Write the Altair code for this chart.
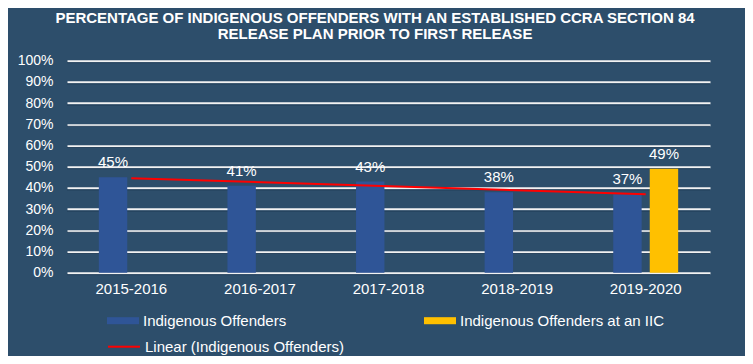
import altair as alt
import pandas as pd

years = ["2015-2016", "2016-2017", "2017-2018", "2018-2019", "2019-2020"]
indigenous = [45, 41, 43, 38, 37]
iic = [None, None, None, None, 49]
series_names = ["Indigenous Offenders", "Indigenous Offenders at an IIC"]
trend_name = "Linear (Indigenous Offenders)"
title_lines = ["PERCENTAGE OF INDIGENOUS OFFENDERS WITH AN ESTABLISHED CCRA SECTION 84",
               "RELEASE PLAN PRIOR TO FIRST RELEASE"]
y_ticks = [0, 10, 20, 30, 40, 50, 60, 70, 80, 90, 100]

BG = "#2D4E6B"
BLUE = "#2F5597"
YELLOW = "#FFC000"
RED = "#FF0000"
SHADOW = "#1E3A55"
FONT = "Liberation Sans"

rows = []
for i, y in enumerate(years):
    rows.append({"year": y, "idx": i, "series": series_names[0], "pct": indigenous[i]})
    if iic[i] is not None:
        rows.append({"year": y, "idx": i, "series": series_names[1], "pct": iic[i]})
df = pd.DataFrame(rows)
blue_df = df[df["series"] == series_names[0]]
grid_df = pd.DataFrame({"pct": y_ticks})

x_enc = alt.X("year:N", sort=years, title=None,
              scale=alt.Scale(paddingInner=0.495, paddingOuter=0.2475),
              axis=alt.Axis(labelAngle=0, labelColor="white", labelFontSize=15,
                            labelFont=FONT, ticks=False, domain=False, labelPadding=9))
xoff = alt.XOffset("series:N", scale=alt.Scale(domain=series_names, paddingInner=0.222, paddingOuter=0))
y_axis = alt.Axis(values=y_ticks, labelExpr="datum.value + '%'",
                  labelColor="white", labelFontSize=14, labelFont=FONT,
                  labelOverlap=False, tickCount=11,
                  ticks=False, domain=False, labelPadding=14,
                  grid=True, gridColor="#F2F2F2", gridWidth=2)
y_enc = alt.Y("pct:Q", title=None, scale=alt.Scale(domain=[0, 100], nice=False), axis=y_axis)

shadow = alt.Chart(grid_df).mark_rule(color=SHADOW, strokeWidth=1, opacity=0.8).encode(
    y=y_enc, yOffset=alt.value(2)
)

bars = alt.Chart(df).mark_bar().encode(
    x=x_enc, xOffset=xoff, y=y_enc,
    fill=alt.Fill("series:N", scale=alt.Scale(domain=series_names, range=[BLUE, YELLOW]),
                  legend=alt.Legend(title=None, orient="none", legendX=40, legendY=244,
                                    columns=2, columnPadding=137, labelColor="white",
                                    labelFontSize=15, labelFont=FONT, labelOffset=4,
                                    labelLimit=0,
                                    symbolType="M-1,-0.22H1V0.22H-1Z", symbolSize=1024,
                                    symbolStrokeWidth=0, padding=0)),
)

labels = alt.Chart(df).transform_calculate(label="datum.pct + '%'").mark_text(
    color="white", fontSize=15, font=FONT, baseline="alphabetic", dy=-10
).encode(x=alt.X("year:N", sort=years), xOffset=xoff, y=y_enc, text="label:N")

trend = alt.Chart(blue_df).transform_regression("idx", "pct").transform_calculate(
    name="'" + trend_name + "'"
).mark_line(strokeWidth=2).encode(
    x=alt.X("idx:Q", scale=alt.Scale(domain=[-0.5, 4.5], nice=False, zero=False), axis=None),
    y=y_enc,
    stroke=alt.Stroke("name:N", scale=alt.Scale(domain=[trend_name], range=[RED]),
                      legend=alt.Legend(title=None, orient="none", legendX=40, legendY=269,
                                        labelColor="white", labelFontSize=15, labelFont=FONT,
                                        labelOffset=4, labelLimit=0,
                                        symbolType="stroke", symbolSize=1024,
                                        symbolStrokeWidth=2, padding=0)),
)

chart = alt.layer(alt.layer(shadow, bars, labels), trend).resolve_scale(x="independent").properties(
    width=643, height=212,
    autosize=alt.AutoSizeParams(type="none"),
    padding={"left": 59, "top": 52.7, "right": 35, "bottom": 83.3},
    background=BG,
    title=alt.Title(title_lines, color="white", fontSize=15, font=FONT, fontWeight="bold",
                    anchor="middle", dx=-13.5, dy=-2, offset=10, lineHeight=16),
).configure_view(stroke=None)

chart.save("out.html", embed_options={"renderer": "svg", "actions": False})
